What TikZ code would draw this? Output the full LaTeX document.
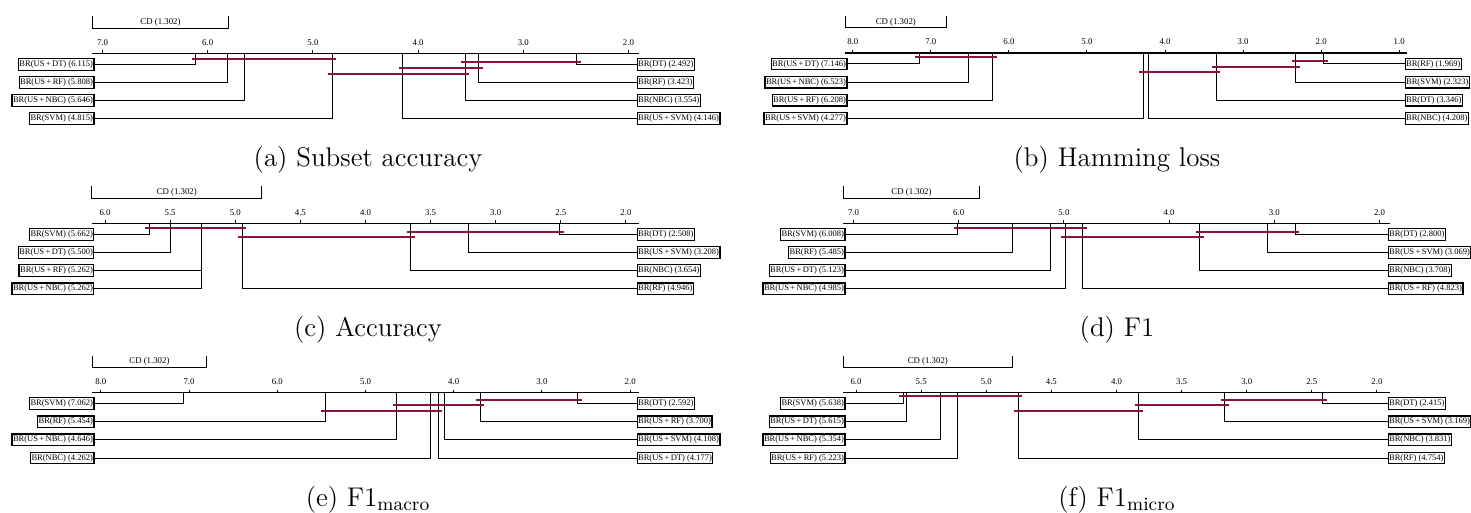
\documentclass[tikz,border=0pt]{standalone}
\usepackage{tikz}
\usepackage{fontspec}
\newfontfamily\lblfont{Liberation Serif}
\definecolor{cdred}{RGB}{140,20,55}
\tikzset{
  lbl/.style={draw, line width=0.6pt, fill=white, inner xsep=0.5pt, inner ysep=1pt,
    font=\lblfont\fontsize{4.25}{5}\selectfont},
  tickl/.style={font=\lblfont\fontsize{4.4}{5}\selectfont},
  link/.style={line width=0.5pt},
  axisline/.style={line width=0.6pt},
  grp/.style={draw=cdred, line width=0.9pt, shorten <=-2pt, shorten >=-2pt},
  subcap/.style={font=\fontsize{13.5}{16}\selectfont},
}
\pgfkeys{/pgf/number format/.cd, fixed, fixed zerofill, precision=1, assume math mode=true}
\begin{document}
\begin{tikzpicture}[x=0.5pt, y=-0.5pt]
\useasboundingbox (0,0) rectangle (1471,513);

% (a) subset accuracy
\begin{scope}[shift={(838.865,53.3)}, x=-52.596pt]
  \draw[axisline] (7.1,0) -- (1.9,0);
  \foreach \v in {7,...,2} {
    \draw[link] (\v,-3) -- (\v,0);
    \node[tickl] at (\v,-11) {\pgfmathprintnumber{\v}};
  }
  \draw[link] (7.1,-37) -- (7.1,-25) -- (5.798,-25) -- (5.798,-37);
  \node[tickl] (acd) at (6.449,-31) {CD (1.302)};
  \foreach \rk/\lab [count=\i] in {6.115/BR(US\,+\,DT), 5.808/BR(US\,+\,RF), 5.646/BR(US\,+\,NBC), 4.815/BR(SVM)} {
    \node[lbl, anchor=east, xshift=1.25pt] (al\i) at (7.1,{11+18.1*(\i-1)}) {\lab\ (\rk)};
    \coordinate (alr\i) at (\rk,0);
    \draw[link] (al\i) -| (alr\i);
  }
  \foreach \rk/\lab [count=\i] in {2.492/BR(DT), 3.423/BR(RF), 3.554/BR(NBC), 4.146/BR(US\,+\,SVM)} {
    \node[lbl, anchor=west, xshift=-1.25pt] (ar\i) at (1.9,{11+18.1*(\i-1)}) {\lab\ (\rk)};
    \coordinate (arr\i) at (\rk,0);
    \draw[link] (ar\i) -| (arr\i);
  }
  \draw[grp] (6.115,6) -- (4.815,6);
  \draw[grp] (3.554,9) -- (2.492,9);
  \draw[grp] (4.146,15) -- (3.423,15);
  \draw[grp] (4.815,20.7) -- (3.554,20.7);
\end{scope}

% (b) hamming loss
\begin{scope}[shift={(1477.25,53)}, x=-39.028pt]
  \draw[axisline] (8.1,0) -- (0.9,0);
  \foreach \v in {8,...,1} {
    \draw[link] (\v,-3) -- (\v,0);
    \node[tickl] at (\v,-11) {\pgfmathprintnumber{\v}};
  }
  \draw[link] (8.1,-37) -- (8.1,-25) -- (6.798,-25) -- (6.798,-37);
  \node[tickl] (bcd) at (7.449,-31) {CD (1.302)};
  \foreach \rk/\lab [count=\i] in {7.146/BR(US\,+\,DT), 6.523/BR(US\,+\,NBC), 6.208/BR(US\,+\,RF), 4.277/BR(US\,+\,SVM)} {
    \node[lbl, anchor=east, xshift=1.25pt] (bl\i) at (8.1,{11+18.1*(\i-1)}) {\lab\ (\rk)};
    \coordinate (blr\i) at (\rk,0);
    \draw[link] (bl\i) -| (blr\i);
  }
  \foreach \rk/\lab [count=\i] in {1.969/BR(RF), 2.323/BR(SVM), 3.346/BR(DT), 4.208/BR(NBC)} {
    \node[lbl, anchor=west, xshift=-1.25pt] (br\i) at (0.9,{11+18.1*(\i-1)}) {\lab\ (\rk)};
    \coordinate (brr\i) at (\rk,0);
    \draw[link] (br\i) -| (brr\i);
  }
  \draw[grp] (7.146,4.3) -- (6.208,4.3);
  \draw[grp] (2.323,8) -- (1.969,8);
  \draw[grp] (3.346,13.7) -- (2.323,13.7);
  \draw[grp] (4.277,18.7) -- (3.346,18.7);
\end{scope}

% (c) accuracy
\begin{scope}[shift={(886.45,223.5)}, x=-65.119pt]
  \draw[axisline] (6.1,0) -- (1.9,0);
  \foreach \v in {6,5.5,...,2} {
    \draw[link] (\v,-3) -- (\v,0);
    \node[tickl] at (\v,-11) {\pgfmathprintnumber{\v}};
  }
  \draw[link] (6.1,-37) -- (6.1,-25) -- (4.798,-25) -- (4.798,-37);
  \node[tickl] (ccd) at (5.449,-31) {CD (1.302)};
  \foreach \rk/\lab [count=\i] in {5.662/BR(SVM), 5.500/BR(US\,+\,DT), 5.262/BR(US\,+\,RF), 5.262/BR(US\,+\,NBC)} {
    \node[lbl, anchor=east, xshift=1.25pt] (cl\i) at (6.1,{11+18.1*(\i-1)}) {\lab\ (\rk)};
    \coordinate (clr\i) at (\rk,0);
    \draw[link] (cl\i) -| (clr\i);
  }
  \foreach \rk/\lab [count=\i] in {2.508/BR(DT), 3.208/BR(US\,+\,SVM), 3.654/BR(NBC), 4.946/BR(RF)} {
    \node[lbl, anchor=west, xshift=-1.25pt] (cr\i) at (1.9,{11+18.1*(\i-1)}) {\lab\ (\rk)};
    \coordinate (crr\i) at (\rk,0);
    \draw[link] (cr\i) -| (crr\i);
  }
  \draw[grp] (5.662,4.2) -- (4.946,4.2);
  \draw[grp] (3.654,8.2) -- (2.508,8.2);
  \draw[grp] (4.946,13.2) -- (3.654,13.2);
\end{scope}

% (d) F1
\begin{scope}[shift={(1589.865,223.5)}, x=-52.596pt]
  \draw[axisline] (7.1,0) -- (1.9,0);
  \foreach \v in {7,...,2} {
    \draw[link] (\v,-3) -- (\v,0);
    \node[tickl] at (\v,-11) {\pgfmathprintnumber{\v}};
  }
  \draw[link] (7.1,-37) -- (7.1,-25) -- (5.798,-25) -- (5.798,-37);
  \node[tickl] (dcd) at (6.449,-31) {CD (1.302)};
  \foreach \rk/\lab [count=\i] in {6.008/BR(SVM), 5.485/BR(RF), 5.123/BR(US\,+\,DT), 4.985/BR(US\,+\,NBC)} {
    \node[lbl, anchor=east, xshift=1.25pt] (dl\i) at (7.1,{11+18.1*(\i-1)}) {\lab\ (\rk)};
    \coordinate (dlr\i) at (\rk,0);
    \draw[link] (dl\i) -| (dlr\i);
  }
  \foreach \rk/\lab [count=\i] in {2.800/BR(DT), 3.069/BR(US\,+\,SVM), 3.708/BR(NBC), 4.823/BR(US\,+\,RF)} {
    \node[lbl, anchor=west, xshift=-1.25pt] (dr\i) at (1.9,{11+18.1*(\i-1)}) {\lab\ (\rk)};
    \coordinate (drr\i) at (\rk,0);
    \draw[link] (dr\i) -| (drr\i);
  }
  \draw[grp] (6.008,4.2) -- (4.823,4.2);
  \draw[grp] (3.708,8.2) -- (2.800,8.2);
  \draw[grp] (4.985,13.2) -- (3.708,13.2);
\end{scope}

% (e) F1 macro
\begin{scope}[shift={(806.63,392.7)}, x=-44.113pt]
  \draw[axisline] (8.1,0) -- (1.9,0);
  \foreach \v in {8,...,2} {
    \draw[link] (\v,-3) -- (\v,0);
    \node[tickl] at (\v,-11) {\pgfmathprintnumber{\v}};
  }
  \draw[link] (8.1,-37) -- (8.1,-25) -- (6.798,-25) -- (6.798,-37);
  \node[tickl] (ecd) at (7.449,-31) {CD (1.302)};
  \foreach \rk/\lab [count=\i] in {7.062/BR(SVM), 5.454/BR(RF), 4.646/BR(US\,+\,NBC), 4.262/BR(NBC)} {
    \node[lbl, anchor=east, xshift=1.25pt] (el\i) at (8.1,{11+18.1*(\i-1)}) {\lab\ (\rk)};
    \coordinate (elr\i) at (\rk,0);
    \draw[link] (el\i) -| (elr\i);
  }
  \foreach \rk/\lab [count=\i] in {2.592/BR(DT), 3.700/BR(US\,+\,RF), 4.108/BR(US\,+\,SVM), 4.177/BR(US\,+\,DT)} {
    \node[lbl, anchor=west, xshift=-1.25pt] (er\i) at (1.9,{11+18.1*(\i-1)}) {\lab\ (\rk)};
    \coordinate (err\i) at (\rk,0);
    \draw[link] (er\i) -| (err\i);
  }
  \draw[grp] (3.700,7.3) -- (2.592,7.3);
  \draw[grp] (4.646,12.3) -- (3.700,12.3);
  \draw[grp] (5.454,18) -- (4.177,18);
\end{scope}

% (f) F1 micro
\begin{scope}[shift={(1637.45,392.7)}, x=-65.119pt]
  \draw[axisline] (6.1,0) -- (1.9,0);
  \foreach \v in {6,5.5,...,2} {
    \draw[link] (\v,-3) -- (\v,0);
    \node[tickl] at (\v,-11) {\pgfmathprintnumber{\v}};
  }
  \draw[link] (6.1,-37) -- (6.1,-25) -- (4.798,-25) -- (4.798,-37);
  \node[tickl] (fcd) at (5.449,-31) {CD (1.302)};
  \foreach \rk/\lab [count=\i] in {5.638/BR(SVM), 5.615/BR(US\,+\,DT), 5.354/BR(US\,+\,NBC), 5.223/BR(US\,+\,RF)} {
    \node[lbl, anchor=east, xshift=1.25pt] (fl\i) at (6.1,{11+18.1*(\i-1)}) {\lab\ (\rk)};
    \coordinate (flr\i) at (\rk,0);
    \draw[link] (fl\i) -| (flr\i);
  }
  \foreach \rk/\lab [count=\i] in {2.415/BR(DT), 3.169/BR(US\,+\,SVM), 3.831/BR(NBC), 4.754/BR(RF)} {
    \node[lbl, anchor=west, xshift=-1.25pt] (fr\i) at (1.9,{11+18.1*(\i-1)}) {\lab\ (\rk)};
    \coordinate (frr\i) at (\rk,0);
    \draw[link] (fr\i) -| (frr\i);
  }
  \draw[grp] (5.638,3.3) -- (4.754,3.3);
  \draw[grp] (3.169,7.3) -- (2.415,7.3);
  \draw[grp] (3.831,12.3) -- (3.169,12.3);
  \draw[grp] (4.754,18) -- (3.831,18);
\end{scope}

% captions
\node[subcap] (capa) at (368,160) {(a) Subset accuracy};
\node[subcap] (capb) at (1117,160) {(b) Hamming loss};
\node[subcap] (capc) at (368,330) {(c) Accuracy};
\node[subcap] (capd) at (1117,330) {(d) F1};
\node[subcap] (cape) at (368,499.5) {(e) F1$_{\mathrm{macro}}$};
\node[subcap] (capf) at (1117,499.5) {(f) F1$_{\mathrm{micro}}$};
\end{tikzpicture}
\end{document}
